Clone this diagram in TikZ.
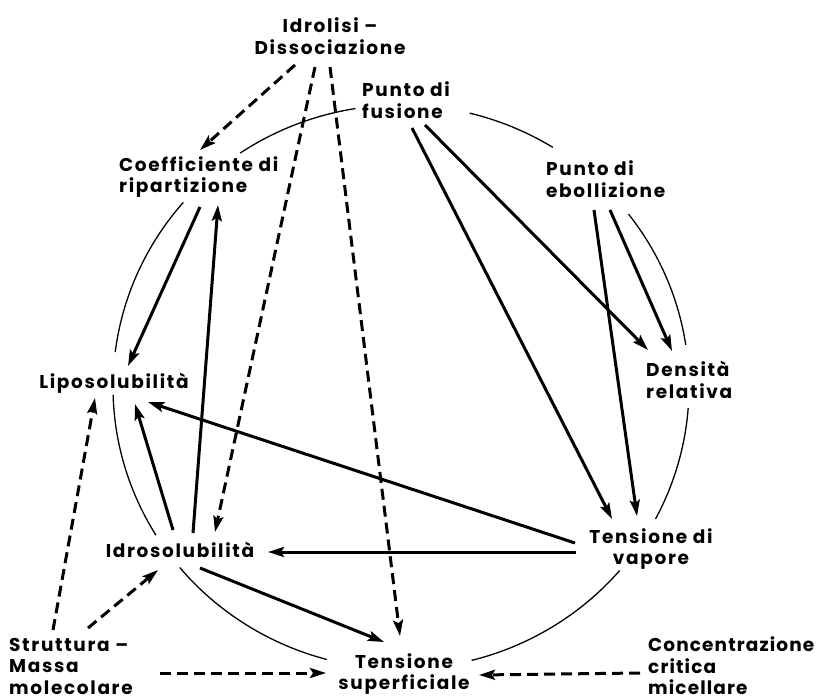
\documentclass[tikz,border=0pt]{standalone}
\usepackage{fontspec}
\setmainfont{Poppins}[LetterSpace=9]
\usetikzlibrary{arrows.meta,calc}
\tikzset{
  lab/.style={font=\fontsize{18.5}{21.5}\selectfont\bfseries, inner sep=1pt},
  tipstyle/.style={-{Stealth[length=16pt,width=10pt,inset=3pt]}},
  sol/.style={line width=3pt, tipstyle},
  dsh/.style={line width=3pt, dash pattern=on 11pt off 6pt, tipstyle},
  circ/.style={line width=1.3pt}
}
\begin{document}
\begin{tikzpicture}[x=1pt,y=-1pt]
\useasboundingbox (0,0) rectangle (819,700);
\fill[white] (0,0) rectangle (819,700);
\coordinate (c) at (401,387);
% nodes
\node[lab, align=center] (idr) at (330,36) {Idrolisi –\\Dissociazione};
\node[lab, align=left, anchor=west] (fus) at (361,100) {Punto di\\fusione};
\node[lab, align=left, anchor=west] (ebo) at (545,179) {Punto di\\ebollizione};
\node[lab, align=left, anchor=west] (coe) at (118,177) {Coefficiente di\\ripartizione};
\node[lab] (lipo) at (114,383) {Liposolubilità};
\node[lab, align=left, anchor=west] (dens) at (645,380) {Densità\\relativa};
\node[lab] (idro) at (180,550) {Idrosolubilità};
\node[lab, align=center] (vap) at (651,549) {Tensione di\\vapore};
\node[lab, align=left, anchor=west] (str) at (8,666) {Struttura –\\Massa\\molecolare};
\node[lab, align=center] (tsup) at (404,674) {Tensione\\superficiale};
\node[lab, align=left, anchor=west, font=\fontsize{18.5}{21.5}\selectfont\bfseries\addfontfeature{LetterSpace=6}] (cmc) at (647,666) {Concentrazione\\critica\\micellare};
% circle arcs
\draw[circ] (c) ++(123.96:288pt and 282pt) arc[start angle=123.96, end angle=99.1, x radius=288pt, y radius=282pt];
\draw[circ] (c) ++(76.2:288pt and 282pt) arc[start angle=76.2, end angle=58.2, x radius=288pt, y radius=282pt];
\draw[circ] (c) ++(37.8:288pt and 282pt) arc[start angle=37.8, end angle=8.6, x radius=288pt, y radius=282pt];
\draw[circ] (c) ++(-4.3:288pt and 282pt) arc[start angle=-4.3, end angle=-27.9, x radius=288pt, y radius=282pt];
\draw[circ] (c) ++(-40.6:288pt and 282pt) arc[start angle=-40.6, end angle=-75.8, x radius=288pt, y radius=282pt];
\draw[circ] (c) ++(-104.9:288pt and 282pt) arc[start angle=-104.9, end angle=-140.2, x radius=288pt, y radius=282pt];
\draw[circ] (c) ++(-148.3:288pt and 282pt) arc[start angle=-148.3, end angle=-178.4, x radius=288pt, y radius=282pt];
\draw[circ] (c) ++(172.9:288pt and 282pt) arc[start angle=172.9, end angle=139.1, x radius=288pt, y radius=282pt];
% dashed connectors
\draw[dsh] ($(idr)+(-35,29)$) -- ($(coe.west)+(82,-27)$);
\draw[dsh] ($(idr)+(-15,31)$) -- ($(idro)+(35,-18)$);
\draw[dsh] ($(idr)+(0,31)$) -- ($(tsup)+(-4,-38)$);
\draw[dsh] ($(str.west)+(45,-36)$) -- ($(lipo)+(-19,15)$);
\draw[dsh] ($(str.west)+(80,-38)$) -- ($(idro)+(-22,20)$);
\draw[dsh] ($(str.west)+(152,7)$) -- ($(tsup)+(-78,-1)$);
\draw[dsh] ($(cmc.west)+(-7,7)$) -- ($(tsup)+(75,1)$);
% solid connectors
\draw[sol] ($(coe.west)+(82,30)$) -- ($(lipo)+(14,-17)$);
\draw[sol] ($(idro)+(13,-17)$) -- ($(coe.west)+(100,28)$);
\draw[sol] ($(idro)+(-7,-20)$) -- ($(lipo)+(21,21)$);
\draw[sol] ($(vap)+(-76,-6)$) -- ($(lipo)+(34,19)$);
\draw[sol] ($(vap)+(-75,3)$) -- ($(idro)+(88,2)$);
\draw[sol] ($(idro)+(20,18)$) -- ($(tsup)+(-20,-32)$);
\draw[sol] ($(fus.west)+(64,25)$) -- ($(dens.west)+(3,-30)$);
\draw[sol] ($(fus.west)+(51,28)$) -- ($(vap)+(-39,-30)$);
\draw[sol] ($(ebo.west)+(49,31)$) -- ($(vap)+(-14,-33)$);
\draw[sol] ($(ebo.west)+(65,31)$) -- ($(dens.west)+(27,-29)$);
\end{tikzpicture}
\end{document}
